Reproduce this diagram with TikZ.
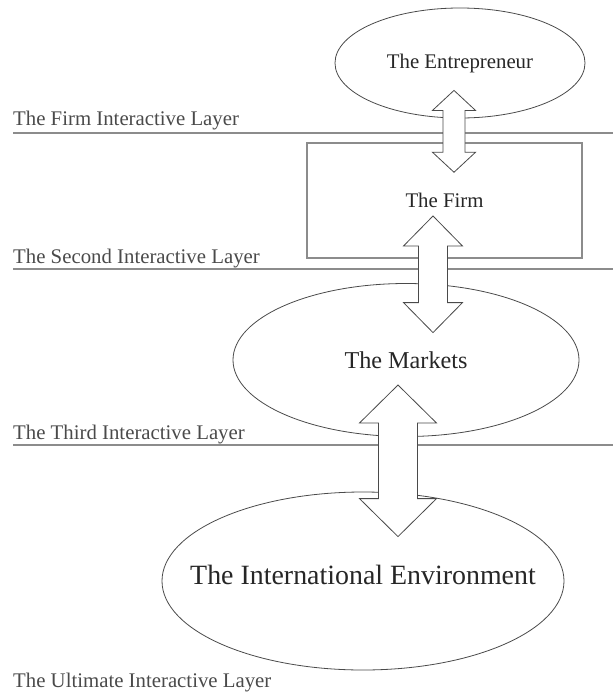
\documentclass[tikz,border=0pt]{standalone}
\usepackage{fontspec}
\setmainfont{Liberation Serif}
\usetikzlibrary{shapes.geometric, calc}
\definecolor{LineGray}{HTML}{8C8C8C}
\definecolor{InkGray}{HTML}{4A4A4A}

% two-headed block arrow between two points on one vertical
\newcommand{\dblarrow}[5]{%
  \draw[blockarr] let \p1=(#1), \p2=(#2) in
    (\x1,\y1) -- (\x1+#4,\y1-#5) -- (\x1+#3,\y1-#5) -- (\x1+#3,\y2+#5)
    -- (\x1+#4,\y2+#5) -- (\x1,\y2) -- (\x1-#4,\y2+#5) -- (\x1-#3,\y2+#5)
    -- (\x1-#3,\y1-#5) -- (\x1-#4,\y1-#5) -- cycle;
}

\begin{document}
\begin{tikzpicture}[x=1pt, y=-1pt,
    oval/.style={ellipse, draw=InkGray, line width=0.8pt, inner sep=0pt},
    box/.style={draw=LineGray, line width=1.5pt, inner sep=0pt},
    layer/.style={draw=LineGray, line width=1.6pt},
    lay/.style={anchor=base west, inner sep=0pt, text=InkGray},
    blockarr/.style={draw=InkGray, line width=0.8pt, fill=white, line join=miter},
    every node/.style={font=\fontsize{20.8}{25}\selectfont, text=black!85}
]
\useasboundingbox (0,0) rectangle (613,697);

% =============================================
% LAYERS
% =============================================
\draw[layer] (13,133) -- (613,133);
\draw[layer] (13,269) -- (613,269);
\draw[layer] (13,445) -- (613,445);

\node[lay] (firmlay) at (13,125) {The Firm Interactive Layer};
\node[lay] (secondlay) at (13,263) {The Second Interactive Layer};
\node[lay] (thirdlay) at (13,439) {The Third Interactive Layer};
\node[lay] (ultlay) at (13,687) {The Ultimate Interactive Layer};

% =============================================
% ACTORS
% =============================================
\node[oval, minimum width=250pt, minimum height=110pt] (ent) at (460,63) {The Entrepreneur};
\node[box, minimum width=275pt, minimum height=115pt] (firm) at (444.5,200.5) {The Firm};
\node[oval, minimum width=346pt, minimum height=153pt,
      font=\fontsize{24.2}{29}\selectfont] (mkt) at (406,360) {The Markets};
\node[oval, minimum width=402pt, minimum height=178pt,
      label={[font=\fontsize{27.9}{33}\selectfont, yshift=6pt]center:The International Environment}] (intl) at (363,581) {};

% =============================================
% INTERACTIONS
% =============================================
\coordinate (ef1) at ([xshift=-6pt, yshift=28pt]ent.south);
\coordinate (ef2) at ([xshift=9.5pt, yshift=-30pt]firm.north);
\coordinate (fm1) at ([xshift=-11.5pt, yshift=-15.5pt]firm.center);
\coordinate (fm2) at ([xshift=27pt, yshift=-49.5pt]mkt.north);
\coordinate (mi1) at ([xshift=-8pt, yshift=-25pt]mkt.center);
\coordinate (mi2) at ([xshift=35pt, yshift=-45pt]intl.north);

\dblarrow{ef1}{ef2}{11pt}{21.5pt}{20pt}
\dblarrow{fm1}{fm2}{14.5pt}{29.5pt}{30pt}
\dblarrow{mi1}{mi2}{19.5pt}{38.5pt}{38pt}

\end{tikzpicture}
\end{document}
